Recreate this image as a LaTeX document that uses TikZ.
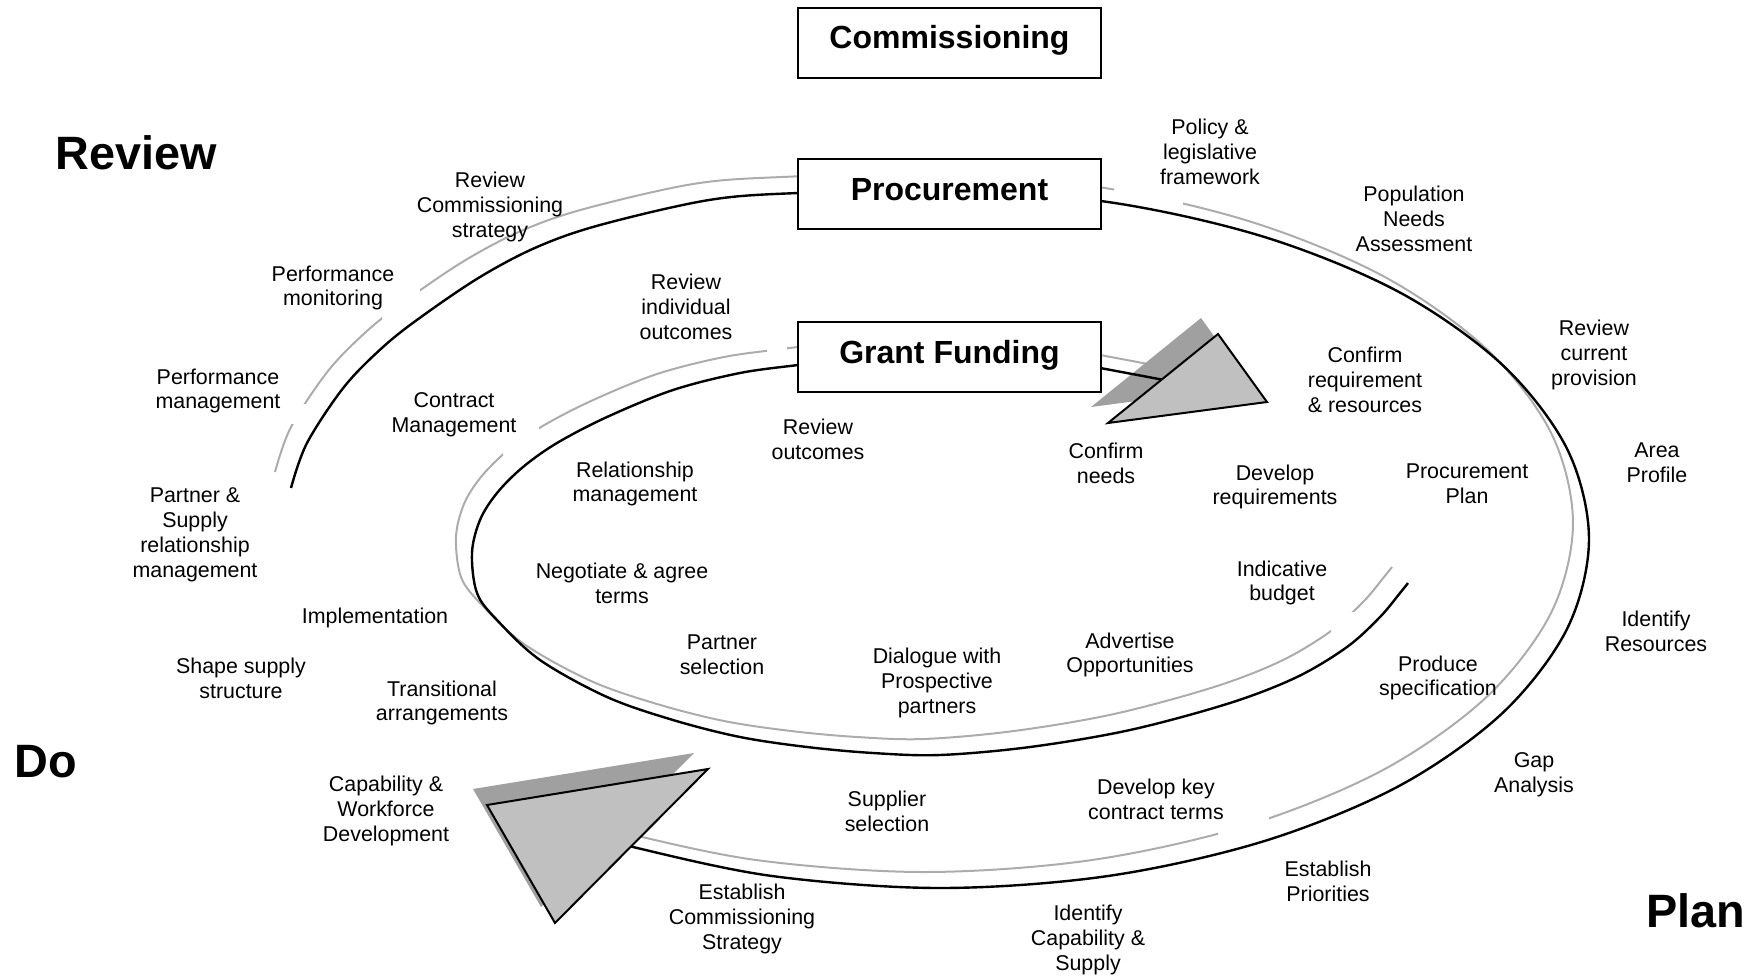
\documentclass[tikz,border=0pt]{standalone}
\usepackage{fontspec}
\setmainfont{Liberation Sans}
\definecolor{shadeline}{RGB}{172,172,172}
\definecolor{trifill}{RGB}{192,192,192}
\definecolor{trishadow}{RGB}{160,160,160}
\begin{document}
\begin{tikzpicture}[x=0.5pt,y=-0.5pt,
  lbl/.style={font=\fontsize{10.7pt}{12.4pt}\selectfont, align=center, inner sep=0pt, yshift=-1pt},
  big/.style={font=\fontsize{23.4pt}{28pt}\selectfont\bfseries, inner sep=0pt},
  stagebox/.style={draw=black, line width=1pt, fill=white, minimum width=151.5pt, minimum height=35pt, inner sep=0pt},
  boxtext/.style={font=\fontsize{16pt}{19pt}\selectfont\bfseries, inner sep=0pt},
  blk/.style={draw=black, line width=1.2pt},
  gry/.style={draw=shadeline, line width=1pt},
  tri/.style={fill=trifill, draw=black, line width=1pt},
  trishade/.style={fill=trishadow},
]
\useasboundingbox (0,0) rectangle (1753,976);

% ---------- gray shadow lines ----------
\begin{scope}[even odd rule]
\clip (-10,-10) rectangle (1763,986)
  (382,285) rectangle (420,335)
  (285,404) rectangle (320,424)
  (1114,165) rectangle (1183,215)
  (1218,800) rectangle (1269,855)
  (767,338) rectangle (787,364)
  (503,415) rectangle (539,462)
  (1331,612) rectangle (1354,652);
\begin{scope}[shift={(-16,-16)}]
\draw[gry] plot[smooth, tension=0.55] coordinates {(291,488) (307,443) (344,387) (383,347) (421,317) (480,277) (537,247) (600,225) (709,200) (798,193) (940,190) (1108,202) (1264.5,237) (1399,292) (1502,364.5) (1567,448.7) (1589,539) (1567,629) (1502,713.5) (1399,786) (1264.5,841) (1108,876) (940,888) (772,876) (633,847) (596,835)};
\draw[gry] plot[smooth, tension=0.55] coordinates {(830,361) (798,365) (740,373) (673,390) (607,417) (557,443) (523,467) (497,493) (480,520) (472,553) (477,593) (497,620) (540,660) (607,697) (673,720) (740,737) (807,747) (873,753) (940,755) (1030,747) (1130,730) (1230,703) (1297,677) (1347,647) (1380,617) (1400,593) (1408,583)};
\draw[gry] (1095,367) -- (1180,383);
\end{scope}
\end{scope}

% ---------- triangle shadows ----------
\fill[trishade] (1091,407) -- (1201,318) -- (1250,386) -- cycle;
\fill[trishade] (473,789) -- (694,753) -- (541,907) -- cycle;

% ---------- black spiral ----------
\coordinate (outerstart) at (291,488);
\coordinate (innerend) at (1408,583);
\draw[blk] plot[smooth, tension=0.55] coordinates {(291,488) (307,443) (344,387) (383,347) (421,317) (480,277) (537,247) (600,225) (709,200) (798,193) (940,190) (1108,202) (1264.5,237) (1399,292) (1502,364.5) (1567,448.7) (1589,539) (1567,629) (1502,713.5) (1399,786) (1264.5,841) (1108,876) (940,888) (772,876) (633,847) (596,835)};
\draw[blk] plot[smooth, tension=0.55] coordinates {(830,361) (798,365) (740,373) (673,390) (607,417) (557,443) (523,467) (497,493) (480,520) (472,553) (477,593) (497,620) (540,660) (607,697) (673,720) (740,737) (807,747) (873,753) (940,755) (1030,747) (1130,730) (1230,703) (1297,677) (1347,647) (1380,617) (1400,593) (1408,583)};
\draw[blk] (1095,367) -- (1180,383);

% ---------- arrow triangles ----------
\draw[tri] (1108,423) -- (1218,334) -- (1267,402) -- cycle;
\draw[tri] (487,805) -- (708,769) -- (555,923) -- cycle;

% ---------- boxes ----------
\node[stagebox] (comm) at (949.5,43) {};
\node[stagebox] (proc) at (949.5,194) {};
\node[stagebox] (grant) at (949.5,356.5) {};
\node[boxtext] (commtext) at (949.5,40) {Commissioning};
\node[boxtext] (proctext) at (949.5,190) {Procurement};
\node[boxtext] (granttext) at (949.5,355) {Grant Funding};

% ---------- big stage labels ----------
\node[big] (review) at (136,153) {Review};
\node[big] (do) at (46,762) {Do};
\node[big] (plan) at (1696,911) {Plan};

% ---------- step labels ----------
\node[lbl] (l1) at (1210,150) {Policy \&\\legislative\\framework};
\node[lbl] (l2) at (1414,217) {Population\\Needs\\Assessment};
\node[lbl] (l3) at (1594,353) {Review\\current\\provision};
\node[lbl] (l4) at (1657,461) {Area\\Profile};
\node[lbl] (l5) at (1656,629) {Identify\\Resources};
\node[lbl] (l6) at (1534,773) {Gap\\Analysis};
\node[lbl] (l7) at (1328,879) {Establish\\Priorities};
\node[lbl] (l8) at (1088,938) {Identify\\Capability \&\\Supply};
\node[lbl] (l9) at (742,917) {Establish\\Commissioning\\Strategy};
\node[lbl] (l10) at (386,809) {Capability \&\\Workforce\\Development};
\node[lbl] (l11) at (241,676) {Shape supply\\structure};
\node[lbl] (l12) at (442,701) {Transitional\\arrangements};
\node[lbl] (l13) at (375,616) {Implementation};
\node[lbl] (l14) at (195,533) {Partner \&\\Supply\\relationship\\management};
\node[lbl] (l15) at (218,389) {Performance\\management};
\node[lbl] (l16) at (333,286) {Performance\\monitoring};
\node[lbl] (l17) at (490,205) {Review\\Commissioning\\strategy};
\node[lbl] (l18) at (686,305) {Review\\individual\\outcomes};
\node[lbl] (l19) at (454,413) {Contract\\Management};
\node[lbl] (l20) at (818,437) {Review\\outcomes};
\node[lbl] (l21) at (635,482) {Relationship\\management};
\node[lbl] (l22) at (1106,461) {Confirm\\needs};
\node[lbl] (l23) at (1365,378) {Confirm\\requirement\\\& resources};
\node[lbl] (l24) at (1275,485) {Develop\\requirements};
\node[lbl] (l25) at (1467,482) {Procurement\\Plan};
\node[lbl] (l26) at (1282,581) {Indicative\\budget};
\node[lbl] (l27) at (622,581) {Negotiate \& agree\\terms};
\node[lbl] (l28) at (722,653) {Partner\\selection};
\node[lbl] (l29) at (937,681) {Dialogue with\\Prospective\\partners};
\node[lbl] (l30) at (1130,653) {Advertise\\Opportunities};
\node[lbl] (l31) at (1438,676) {Produce\\specification};
\node[lbl] (l32) at (887,809) {Supplier\\selection};
\node[lbl] (l33) at (1156,797) {Develop key\\contract terms};
\end{tikzpicture}
\end{document}
